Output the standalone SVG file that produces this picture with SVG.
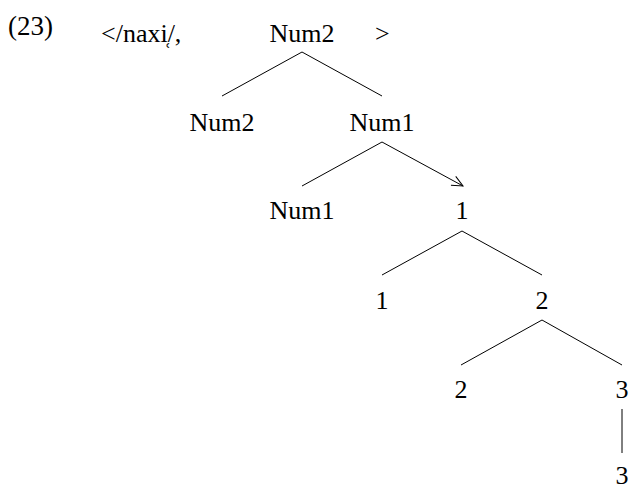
<svg xmlns="http://www.w3.org/2000/svg" width="630" height="489" viewBox="0 0 630 489">
<style>
text{font-family:"Liberation Serif","Times New Roman",serif;font-size:26px;fill:#000}
.c{text-anchor:middle}
line{stroke:#000;stroke-width:1}
</style>
<defs>
<marker id="arr" markerWidth="14" markerHeight="14" refX="12" refY="7" orient="auto" markerUnits="userSpaceOnUse">
<path d="M1,2 L12,7 L1,12" fill="none" stroke="#000" stroke-width="1"/>
</marker>
</defs>
<rect width="630" height="489" fill="#fff"/>
<g id="label"><text x="8" y="35" style="font-size:27px">(23)</text></g>
<g id="tuple"><text x="101" y="42">&lt;/naxi&#x31C;/,</text><text x="375" y="42">&gt;</text></g>
<g id="n-num2-top"><text class="c" x="302" y="42">Num2</text></g>
<g id="n-num2"><text class="c" x="222" y="131">Num2</text></g>
<g id="n-num1-top"><text class="c" x="382" y="131">Num1</text></g>
<g id="n-num1"><text class="c" x="302" y="219">Num1</text></g>
<g id="n-1-top"><text class="c" x="462" y="219">1</text></g>
<g id="n-1"><text class="c" x="382" y="309">1</text></g>
<g id="n-2-top"><text class="c" x="542" y="309">2</text></g>
<g id="n-2"><text class="c" x="461" y="398">2</text></g>
<g id="n-3-top"><text class="c" x="622" y="398">3</text></g>
<g id="n-3"><text class="c" x="622" y="484">3</text></g>
<g id="connectors">
<line x1="302" y1="52" x2="222" y2="96"/>
<line x1="302" y1="52" x2="382" y2="96"/>
<line x1="382" y1="142" x2="302" y2="186"/>
<line x1="382" y1="142" x2="463" y2="186" marker-end="url(#arr)"/>
<line x1="462" y1="231" x2="382" y2="275"/>
<line x1="462" y1="231" x2="542" y2="275"/>
<line x1="542" y1="320" x2="461" y2="365"/>
<line x1="542" y1="320" x2="622" y2="365"/>
<line x1="622" y1="409" x2="622" y2="453"/>
</g>
</svg>
